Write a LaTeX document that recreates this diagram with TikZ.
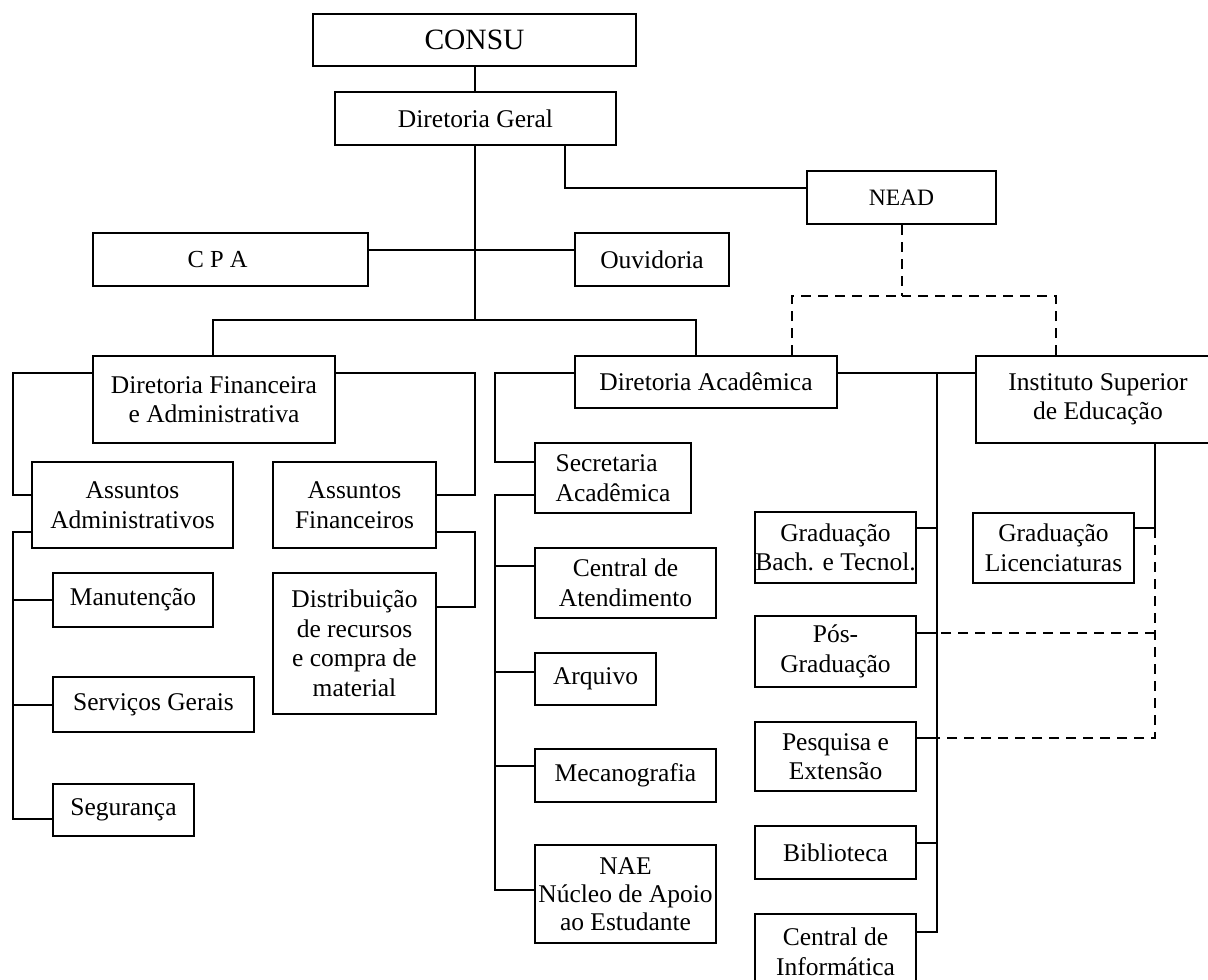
\documentclass[tikz,border=0pt]{standalone}
\usepackage{fontspec}
\setmainfont{Liberation Serif}
\begin{document}
\begin{tikzpicture}[x=1pt,y=-1pt,
  box/.style={draw, line width=2pt, rectangle, inner sep=0pt, align=center,
    font=\fontsize{25.5}{29.5}\selectfont},
  link/.style={line width=2pt},
  dlink/.style={line width=2pt, dash pattern=on 10pt off 7pt}]
\newcommand\orgbox[7][]{\node[box,#1, minimum width={#5-#3}, minimum height={#6-#4}] (#2) at ({(#3+#5)/2},{(#4+#6)/2}) {#7};}
\path[use as bounding box] (0,0) rectangle (1208,980);
\fill[white] (0,0) rectangle (1208,980);
\clip (0,0) rectangle (1208,980);
% boxes
\orgbox[font=\fontsize{29.5}{33}\selectfont]{consu}{313}{14}{636}{66}{CONSU}
\orgbox{dg}{335}{92}{616}{145}{Diretoria Geral}
\orgbox[font=\fontsize{23.5}{27}\selectfont]{nead}{807}{171}{996}{224}{NEAD}
\orgbox[font=\fontsize{24.5}{27}\selectfont]{cpa}{93}{233}{368}{286}{C P A\hspace{26pt}}
\orgbox{ouv}{575}{233}{729}{286}{Ouvidoria}
\orgbox{dfa}{93}{356}{335}{443}{Diretoria Financeira\\e Administrativa}
\orgbox{da}{575}{356}{837}{408}{Diretoria Acadêmica}
\orgbox{ise}{976}{356}{1220}{443}{Instituto Superior\\de Educação}
\orgbox{aa}{32}{462}{233}{548}{Assuntos\\Administrativos}
\orgbox{af}{273}{462}{436}{548}{Assuntos\\Financeiros}
\orgbox{man}{53}{573}{213}{627}{Manutenção}
\orgbox{dist}{273}{573}{436}{714}{Distribuição\\de recursos\\e compra de\\material}
\orgbox{serv}{53}{677}{254}{732}{Serviços Gerais}
\orgbox{seg}{53}{784}{194}{836}{Segurança}
\orgbox[align=left]{sa}{535}{443}{691}{513}{Secretaria\\Acadêmica}
\orgbox{ca}{535}{548}{716}{618}{Central de\\Atendimento}
\orgbox{arq}{535}{653}{656}{705}{Arquivo}
\orgbox{mec}{535}{749}{716}{802}{Mecanografia}
\orgbox[font=\fontsize{25.5}{28}\selectfont]{nae}{535}{845}{716}{943}{NAE\\Núcleo de Apoio\\ao Estudante}
\orgbox{gb}{755}{512}{916}{583}{Graduação\\Bach. e Tecnol.}
\orgbox{pos}{755}{616}{916}{687}{Pós-\\Graduação}
\orgbox{pes}{755}{722}{916}{791}{Pesquisa e\\Extensão}
\orgbox{bib}{755}{826}{916}{879}{Biblioteca}
\orgbox{ci}{755}{914}{916}{990}{Central de\\Informática}
\orgbox{gl}{973}{513}{1134}{583}{Graduação\\Licenciaturas}
% junction coordinates
\coordinate (bar) at (474.5,320);
\coordinate (lsp1) at (13,373);
\coordinate (lsp2) at (13,532);
\coordinate (msp1) at (475,373);
\coordinate (msp2) at (475,532);
\coordinate (asp1) at (495,373);
\coordinate (asp2) at (495,495);
\coordinate (rsp) at (937,373);
\coordinate (isej) at (1155,528);
\coordinate (nj) at (901.5,296);
\coordinate (jpos) at (937,633);
\coordinate (jpes) at (937,738);
% solid connectors
\draw[link] (consu.south) -- (consu.south |- dg.north);
\draw[link] (bar |- dg.south) -- (bar);
\draw[link] ([xshift=89pt]dg.south) |- ([yshift=9.5pt]nead.west);
\draw[link] ([yshift=9.5pt]cpa.east) -- ([yshift=9.5pt]ouv.west);
\draw[link] ([xshift=-1.5pt]dfa.north) |- (bar) -| ([xshift=-10pt]da.north);
% DFA branch
\draw[link] ([yshift=26.5pt]dfa.west) -- (lsp1) |- ([yshift=10pt]aa.west);
\draw[link] ([yshift=26.5pt]dfa.east) -- (msp1) |- ([yshift=10pt]af.east);
\draw[link] ([yshift=-27pt]aa.west) -- (lsp2) |- ([yshift=-9pt]seg.west);
\draw[link] (man.west) -- (man.west -| lsp2);
\draw[link] (serv.west) -- (serv.west -| lsp2);
\draw[link] ([yshift=-27pt]af.east) -- (msp2) |- ([yshift=36.5pt]dist.east);
% DA branch
\draw[link] ([yshift=9pt]da.west) -- (asp1) |- ([yshift=16pt]sa.west);
\draw[link] ([yshift=-17pt]sa.west) -- (asp2) |- ([yshift=4pt]nae.west);
\draw[link] ([yshift=17pt]ca.west) -- ++(-40,0);
\draw[link] ([yshift=7pt]arq.west) -- ++(-40,0);
\draw[link] ([yshift=9.5pt]mec.west) -- ++(-40,0);
\draw[link] ([yshift=9pt]da.east) -- ([yshift=26.5pt]ise.west);
\draw[link] (rsp) |- ([yshift=20pt]ci.east);
\draw[link] ([yshift=19.5pt]gb.east) -- ++(21,0);
\draw[link] ([yshift=18.5pt]pos.east) -- (jpos);
\draw[link] ([yshift=18.5pt]pes.east) -- (jpes);
\draw[link] ([yshift=9.5pt]bib.east) -- ++(21,0);
% ISE branch
\draw[link] ([xshift=57pt]ise.south) -- (isej) -- ([yshift=20pt]gl.east);
% dashed connectors
\draw[dlink] (nead.south) -- (nj);
\draw[dlink] ([xshift=86pt]da.north) |- (nj);
\draw[dlink] ([xshift=-42pt]ise.north) |- (nj);
\draw[dlink] (isej) |- (jpes);
\draw[dlink] (jpos -| isej) -- (jpos);
\end{tikzpicture}
\end{document}
